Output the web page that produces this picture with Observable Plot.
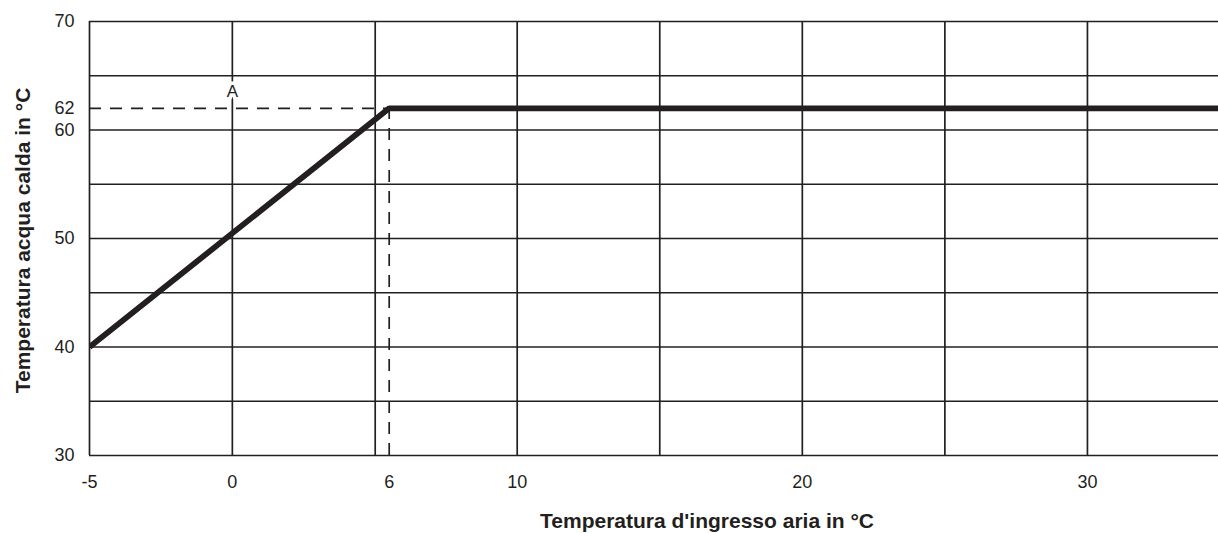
<!DOCTYPE html>
<html>
<head>
<meta charset="utf-8">
<script src="https://cdn.jsdelivr.net/npm/d3@7"></script>
<script src="https://cdn.jsdelivr.net/npm/@observablehq/plot@0.6"></script>
<style>
  html, body { margin: 0; padding: 0; background: #fff; }
  svg { display: block; }
</style>
</head>
<body>
<div id="chart"></div>
<script>
// ---- data ----
const airTemp = [-5, 6, 35];          // air inlet temperature (°C)
const waterTemp = [40, 62, 62];       // hot water temperature (°C)
const xTickValues = [-5, 0, 6, 10, 20, 30];
const yTickValues = [30, 40, 50, 60, 62, 70];
const xGridValues = [-5, 0, 5, 10, 15, 20, 25, 30, 35];
const yGridValues = [30, 35, 40, 45, 50, 55, 60, 65, 70];
const limitX = 6;
const limitY = 62;
const pointLabel = "A";
const xTitle = "Temperatura d'ingresso aria in °C";
const yTitle = "Temperatura acqua calda in °C";

const curve = airTemp.map((x, i) => ({x, y: waterTemp[i]}));
const ink = "#231f20";
const font = "Liberation Sans, Arial, Helvetica, sans-serif";

const chart = Plot.plot({
  width: 1218,
  height: 533,
  marginLeft: 89,
  marginRight: 0,
  marginTop: 21,
  marginBottom: 78,
  style: {fontFamily: font, fontSize: "18px", color: ink, background: "#fff", overflow: "hidden"},
  x: {type: "linear", domain: [-5, 5, 6, 10, 35], range: [89, 374.7, 388.7, 516.7, 1229.5]},
  y: {domain: [30, 70]},
  marks: [
    Plot.gridX(xGridValues, {stroke: ink, strokeOpacity: 1, strokeWidth: 1.7}),
    Plot.gridY(yGridValues, {stroke: ink, strokeOpacity: 1, strokeWidth: 1.7}),
    Plot.ruleY([limitY], {x1: -5, x2: limitX, stroke: ink, strokeWidth: 1.7, strokeDasharray: "12,9"}),
    Plot.ruleX([limitX], {y1: 30, y2: limitY, stroke: ink, strokeWidth: 1.7, strokeDasharray: "12,9"}),
    Plot.line(curve, {x: "x", y: "y", stroke: ink, strokeWidth: 5.8, strokeLinejoin: "miter", strokeLinecap: "butt", clip: true}),
    Plot.text([pointLabel], {x: 0, y: limitY, text: d => d, dy: -17, fontSize: 17, fill: ink, stroke: "white", strokeWidth: 7}),
    Plot.axisX(xTickValues, {tickSize: 0, tickPadding: 20, fontSize: 18, label: null, tickFormat: d => String(d)}),
    Plot.axisY(yTickValues, {tickSize: 0, tickPadding: 15, fontSize: 18, label: null, tickFormat: d => String(d)}),
    Plot.text([xTitle], {frameAnchor: "bottom", lineAnchor: "middle", dx: 53, dy: 66, text: d => d, fontSize: 21, fontWeight: "bold", fill: ink}),
    Plot.text([yTitle], {frameAnchor: "left", textAnchor: "middle", lineAnchor: "middle", dx: -66, dy: 2, text: d => d, rotate: -90, fontSize: 21, fontWeight: "bold", fill: ink})
  ]
});
document.getElementById("chart").append(chart);
</script>
</body>
</html>
